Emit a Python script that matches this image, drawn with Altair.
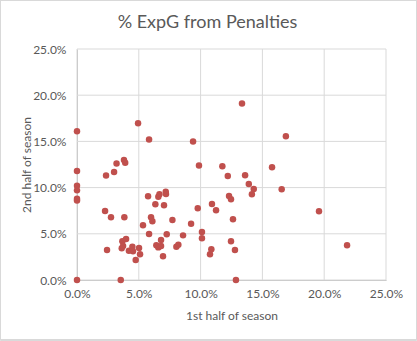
import altair as alt
import pandas as pd

# 1st half of season (%), 2nd half of season (%)
first_half = [
    0, 0, 0, 0, 0, 0, 0,
    2.27, 2.35, 2.43, 2.75, 3.0, 3.2, 3.54, 3.62, 3.67, 3.73, 3.8, 3.9, 3.83, 3.97,
    4.2, 4.48, 4.53, 4.75, 4.94, 5.02, 5.1, 5.34, 5.75, 5.83, 5.83, 5.99, 6.1, 6.34,
    6.42, 6.58, 6.67, 6.58, 6.8, 6.8, 6.96, 7.04, 7.18, 7.2, 7.26, 7.72, 8.04, 8.2,
    8.58, 9.23, 9.39, 9.77, 9.87, 10.11, 10.11, 10.76, 10.87, 10.92, 11.25, 11.76,
    12.2, 12.3, 12.46, 12.62, 12.46, 12.78, 12.86, 13.35, 13.6, 13.9, 14.15, 14.3,
    15.78, 16.56, 16.9, 19.58, 21.85,
]
second_half = [
    16.1, 11.8, 10.2, 9.7, 8.8, 8.6, 0,
    7.47, 11.3, 3.25, 6.78, 11.7, 12.6, 0, 3.43, 4.19, 3.68, 13.0, 12.7, 6.78, 4.44,
    3.17, 3.6, 3.1, 2.16, 16.96, 3.46, 2.78, 5.92, 9.06, 15.2, 4.98, 6.78, 6.35, 8.19,
    3.75, 9.02, 9.27, 3.53, 3.68, 4.33, 2.56, 8.08, 9.56, 9.31, 4.94, 6.49, 3.6, 3.82,
    4.83, 6.1, 15.0, 7.76, 12.4, 5.19, 4.51, 2.78, 3.32, 8.22, 7.54, 12.3,
    11.26, 9.09, 8.73, 6.57, 4.19, 3.25, 0, 19.1, 11.33, 10.4, 9.27, 9.85,
    12.2, 9.82, 15.55, 7.43, 3.75,
]
tick_values = [0, 0.05, 0.10, 0.15, 0.20, 0.25]

df = pd.DataFrame({
    "first": [v / 100 for v in first_half],
    "second": [v / 100 for v in second_half],
})
ticks_df = pd.DataFrame({"tick": tick_values})

W, H = 309, 231
FONT = "Lato"
GREY = "#595959"
GRID = "#d9d9d9"

xscale = alt.Scale(domain=[0, 0.25], nice=False, zero=False)
yscale = alt.Scale(domain=[0, 0.25], nice=False, zero=False)

x_axis = alt.Axis(values=tick_values, format=".1%", title="1st half of season",
                  titleX=W / 2, titleY=35, titleBaseline="middle",
                  labelPadding=8, grid=False, labelFlush=False)
y_axis = alt.Axis(values=tick_values, format=".1%", title="2nd half of season",
                  titleX=-51, titleY=H / 2, titleBaseline="middle",
                  labelPadding=11, grid=False, labelFlush=False)

vgrid = alt.Chart(ticks_df).mark_rule(color=GRID, strokeWidth=1).encode(
    x=alt.X("tick:Q", scale=xscale, axis=x_axis)
)
hgrid = alt.Chart(ticks_df).mark_rule(color=GRID, strokeWidth=1).encode(
    y=alt.Y("tick:Q", scale=yscale, axis=y_axis)
)

points = alt.Chart(df).mark_circle(size=42, color="#C0504D", opacity=1).encode(
    x=alt.X("first:Q", scale=xscale, axis=x_axis),
    y=alt.Y("second:Q", scale=yscale, axis=y_axis),
)

border = alt.Chart(ticks_df).mark_rect(fill="transparent", stroke=GRID, strokeWidth=1).encode(
    x=alt.value(-76.5), x2=alt.value(W + 30.5),
    y=alt.value(-48.5), y2=alt.value(H + 60),
)

chart = alt.layer(vgrid, hgrid, points, border).properties(
    width=W, height=H,
    title=alt.TitleParams("% ExpG from Penalties", fontSize=18, font=FONT,
                          fontWeight="normal", color=GREY, anchor="middle",
                          baseline="alphabetic", dx=-24, offset=-46),
    autosize=alt.AutoSizeParams(type="none"),
    padding={"left": 77, "top": 49, "right": 31, "bottom": 61},
).configure_view(stroke=None).configure_axis(
    labelFont=FONT, labelFontSize=12, labelColor=GREY,
    titleFont=FONT, titleFontSize=12, titleColor=GREY, titleFontWeight="normal",
    domainColor="#bfbfbf", tickSize=0, ticks=False,
)

chart.save("out.html", embed_options={"renderer": "svg", "actions": False})
